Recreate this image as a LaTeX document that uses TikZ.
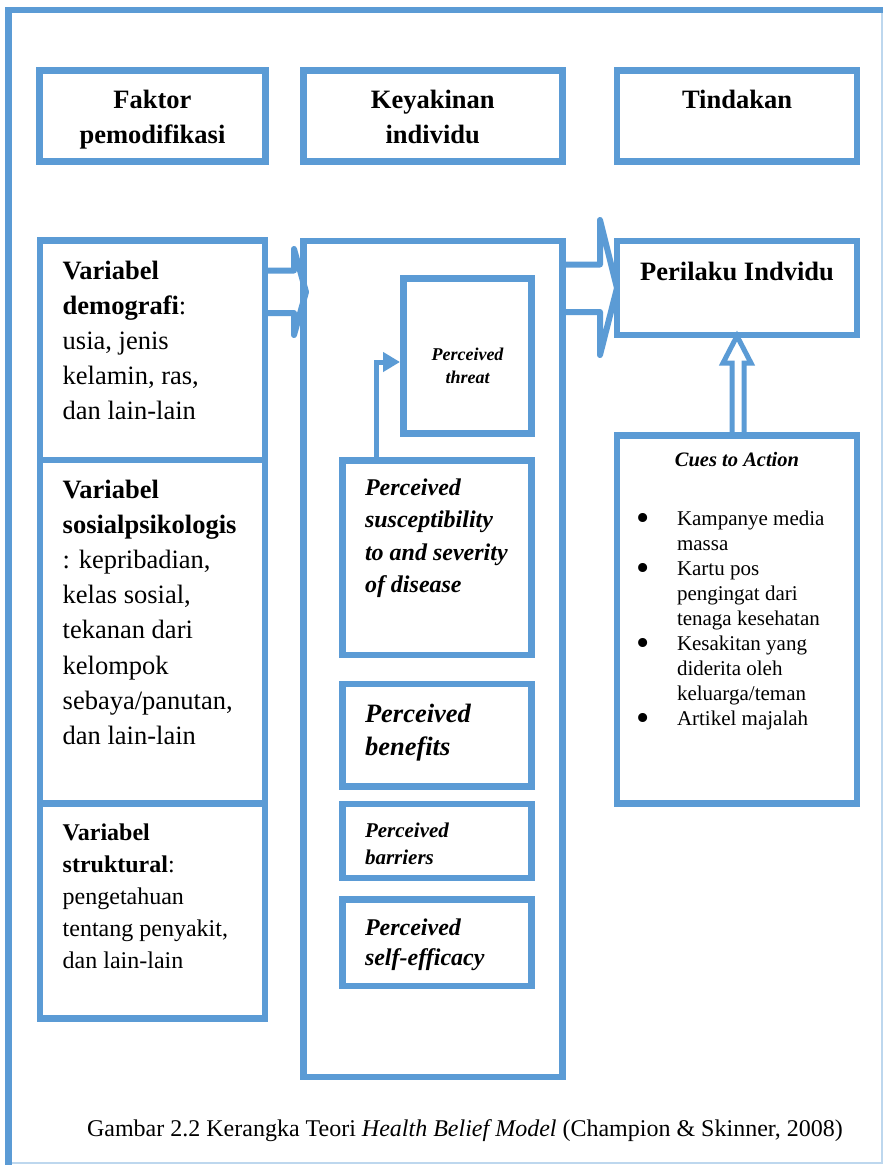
\documentclass[tikz,border=0pt]{standalone}
\usepackage{fontspec}
\usepackage{graphicx}
\setmainfont{Liberation Serif}
\usetikzlibrary{arrows.meta}
\definecolor{hbmblue}{HTML}{5B9BD5}
\definecolor{framelight}{HTML}{BDD7EE}
\newcommand\hbmbullet{\makebox[0pt][r]{\raisebox{-5.5pt}{\scalebox{1.8}{\textbullet}}\hspace{27pt}}}
\tikzset{
  box/.style={draw=hbmblue, line width=6.5pt, inner sep=0pt, outer sep=0pt},
  blockarrow/.style={draw=hbmblue, line width=6pt, line join=round},
  dblarrow/.style={draw=hbmblue, line width=5pt, line join=miter},
  linkarrow/.style={draw=hbmblue, line width=5pt, -{Triangle[length=17pt,width=19pt]}, shorten >=3.5pt},
  txt/.style={inner sep=0pt, outer sep=0pt, text=black},
  para/.style={txt, anchor=north west, align=flush left},
  cpara/.style={txt, anchor=north, align=flush center},
}
\begin{document}
\begin{tikzpicture}[x=1pt,y=-1pt]
\useasboundingbox[fill=white] (0,0) rectangle (883,1165);
% outer frame
\draw[framelight, line width=2pt] (881.7,10) -- (881.7,1163.3) -- (8.7,1163.3);
\draw[hbmblue, line width=7pt] (8.7,1165) -- (8.7,7.3);
\draw[hbmblue, line width=5.5pt] (5.2,10) -- (883,10);

% header boxes
\node[box, minimum width=226pt, minimum height=91pt] (hd1) at (152.5,116) {};
\node[box, minimum width=259pt, minimum height=91pt] (hd2) at (432.75,116) {};
\node[box, minimum width=240pt, minimum height=91pt] (hd3) at (737,116) {};

% left column
\node[box, minimum width=225pt, minimum height=219.5pt] (demo) at (152.5,350.25) {};
\node[box, minimum width=225pt, minimum height=343.3pt] (sosial) at (152.5,631.65) {};
\node[box, minimum width=225pt, minimum height=215pt] (struk) at (152.5,910.8) {};

% middle column
\node[box, minimum width=259pt, minimum height=836pt] (mid) at (433,659) {};
\node[box, minimum width=128pt, minimum height=155pt] (threat) at (467.5,356) {};
\node[box, minimum width=189pt, minimum height=194.5pt] (susc) at (437,557.75) {};
\node[box, minimum width=189pt, minimum height=102.5pt] (benef) at (437,735.25) {};
\node[box, minimum width=189pt, minimum height=74pt] (barr) at (437,841) {};
\node[box, minimum width=189pt, minimum height=86.5pt] (selfe) at (437,942.75) {};

% right column
\node[box, minimum width=240pt, minimum height=94pt] (peri) at (737,288) {};
\node[box, minimum width=240pt, minimum height=368pt] (cues) at (737,619.5) {};

% connectors
\draw[blockarrow] ([yshift=-30pt]demo.north east) -- ++(29,0) -- ++(0,-21.5)
  -- ++(12,43) -- ++(-12,43) -- ++(0,-22) -- (demo.east |- 0,313);
\draw[blockarrow] ([yshift=-23.5pt]mid.north east) -- ++(37.5,0) -- ++(0,-44.5)
  -- ++(17,68) -- ++(-17,67) -- ++(0,-43) -- (mid.east |- 0,312);
\draw[linkarrow] ([xshift=33.5pt]susc.north west) |- ([yshift=-6pt]threat.west);
\draw[dblarrow] ([xshift=-5pt]cues.north) -- ++(0,-72.5) -- ++(-9,0) -- ++(14,-27)
  -- ++(14,27) -- ++(-7,0) -- ([xshift=7pt]cues.north);

% header texts
\node[cpara, text width=220pt, font=\fontsize{26.5}{35}\selectfont\bfseries] (thd1) at (152.5,83.5) {\strut Faktor\\pemodifikasi};
\node[cpara, text width=250pt, font=\fontsize{26.5}{35}\selectfont\bfseries] (thd2) at (432.75,83.5) {\strut Keyakinan\\individu};
\node[txt, anchor=base, font=\fontsize{26.5}{35}\selectfont\bfseries] (thd3) at (737,108) {Tindakan};

% left texts
\node[para, text width=205pt, font=\fontsize{26.5}{35}\selectfont] (tdemo) at (62.7,254.5)
  {\strut\textbf{Variabel}\\\textbf{demografi}:\\usia, jenis\\kelamin, ras,\\dan lain-lain};
\node[para, text width=205pt, font=\fontsize{26.5}{35.2}\selectfont] (tsosial) at (62.7,473.4)
  {\strut\textbf{Variabel}\\\textbf{sosialpsikologis}\\: kepribadian,\\kelas sosial,\\tekanan dari\\kelompok\\sebaya/panutan,\\dan lain-lain};
\node[para, text width=205pt, font=\fontsize{24}{32}\selectfont] (tstruk) at (62.7,817.6)
  {\strut\textbf{Variabel}\\\textbf{struktural}:\\pengetahuan\\tentang penyakit,\\dan lain-lain};

% middle texts
\node[cpara, text width=120pt, font=\fontsize{18}{23}\selectfont\bfseries\itshape] (tthreat) at (467.5,343.9) {\strut Perceived\\threat};
\node[para, text width=170pt, font=\fontsize{24}{32.5}\selectfont\bfseries\itshape] (tsusc) at (365,472.25)
  {\strut Perceived\\susceptibility\\to and severity\\of disease};
\node[para, text width=170pt, font=\fontsize{26.5}{33}\selectfont\bfseries\itshape] (tbenef) at (365,698.9) {\strut Perceived\\benefits};
\node[para, text width=170pt, font=\fontsize{21}{27}\selectfont\bfseries\itshape] (tbarr) at (365,818.1) {\strut Perceived\\barriers};
\node[para, text width=170pt, font=\fontsize{24}{30}\selectfont\bfseries\itshape] (tselfe) at (365,914) {\strut Perceived\\self-efficacy};

% right texts
\node[txt, anchor=base, font=\fontsize{26.5}{35}\selectfont\bfseries] (tperi) at (737,280) {Perilaku Indvidu};
\node[txt, anchor=base, font=\fontsize{20.5}{25}\selectfont\bfseries\itshape] (tcues) at (737,466) {Cues to Action};
\node[para, text width=175pt, font=\fontsize{21}{25}\selectfont] (tlist) at (677,507.5)
  {\strut\hbmbullet Kampanye media\\massa\\\hbmbullet Kartu pos\\pengingat dari\\tenaga kesehatan\\\hbmbullet Kesakitan yang\\diderita oleh\\keluarga/teman\\\hbmbullet Artikel majalah};

% caption
\node[txt, anchor=base, font=\fontsize{24}{30}\selectfont] (caption) at (465,1136)
  {Gambar 2.2 Kerangka Teori \textit{Health Belief Model} (Champion \& Skinner, 2008)};
\end{tikzpicture}
\end{document}
